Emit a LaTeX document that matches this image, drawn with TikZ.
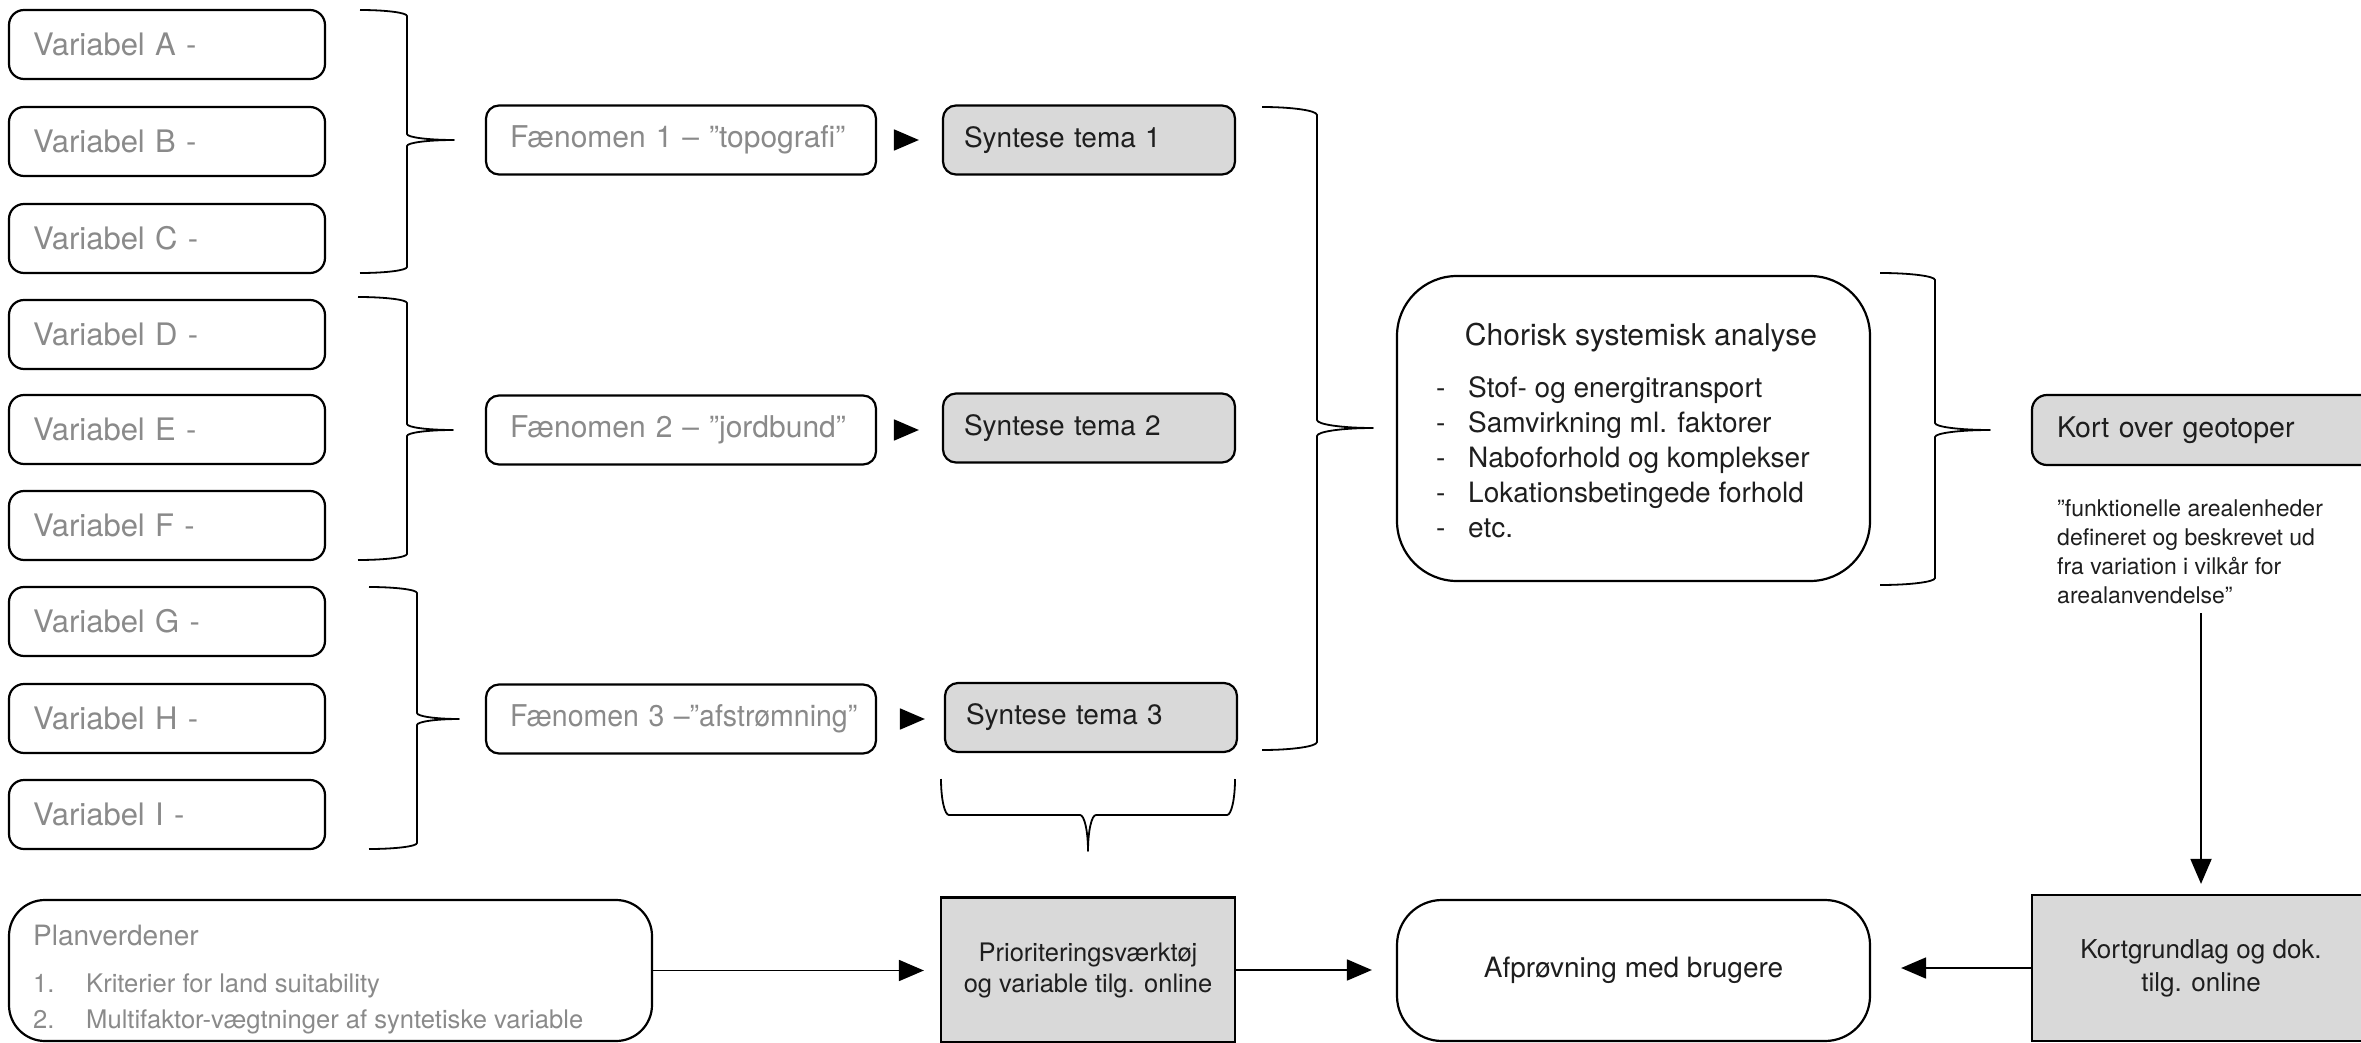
\documentclass[tikz,border=0pt]{standalone}
\usepackage{graphicx}
\usepackage{fontspec}
\setmainfont{TeX Gyre Heros}
\usetikzlibrary{arrows.meta}

\definecolor{txtgrey}{HTML}{8A8A8A}
\definecolor{txtdark}{HTML}{1E1E1E}
\definecolor{boxfill}{HTML}{D9D9D9}

% Curly brace in local coordinates: arms end at x=-#1, spine on x=0,
% tip at x=#2; it runs from y=0 to y=#3, tip at y=#4, corner size #5.
\newcommand{\bracepath}[5]{%
  (-#1,0) .. controls ({-0.4477*#1},0) and (0,{0.4477*#5}) .. (0,#5)
  -- (0,{#4-#5}) .. controls (0,{#4-0.4477*#5}) and ({0.4477*#2},#4) .. (#2,#4)
  .. controls ({0.4477*#2},#4) and (0,{#4+0.4477*#5}) .. (0,{#4+#5})
  -- (0,{#3-#5}) .. controls (0,{#3-0.4477*#5}) and ({-0.4477*#1},#3) .. (-#1,#3)}

\begin{document}
\begin{tikzpicture}[x=1pt, y=-1pt,
  every node/.style={inner sep=0pt},
  border/.style={draw=black, line width=2.2pt},
  varbox/.style={border, rounded corners=15pt, text=txtgrey,
    font=\fontsize{31}{37}\selectfont, minimum height=69pt,
    text width=268pt, inner xsep=24pt, align=left},
  fenbox/.style={border, rounded corners=13pt, text=txtgrey,
    font=\fontsize{30}{36}\selectfont, minimum height=69pt,
    text width=342pt, inner xsep=24pt, align=left},
  synbox/.style={border, rounded corners=13pt, fill=boxfill, text=txtdark,
    font=\fontsize{28}{34}\selectfont, minimum height=69pt,
    text width=250pt, inner xsep=21pt, align=left},
  sqbox/.style={border, fill=boxfill, text=txtdark, align=center},
  arr/.style={line width=1.8pt, -{Triangle[length=25pt,width=21pt]}},
  brc/.style={line width=1.8pt, line join=round},
]
\useasboundingbox (0,0) rectangle (2361,1043);
\clip (0,0) rectangle (2361,1043);

% ---- input variables ----
\node[varbox] (vA) at (167,44.5)  {Variabel A -};
\node[varbox] (vB) at (167,141.5) {Variabel B -};
\node[varbox] (vC) at (167,238.5) {Variabel C -};
\node[varbox] (vD) at (167,334.5) {Variabel D -};
\node[varbox] (vE) at (167,429.5) {Variabel E -};
\node[varbox] (vF) at (167,525.5) {Variabel F -};
\node[varbox] (vG) at (167,621.5) {Variabel G -};
\node[varbox] (vH) at (167,718.5) {Variabel H -};
\node[varbox] (vI) at (167,814.5) {Variabel I -};

% braces grouping the variables
\draw[brc, shift={(407,10)}]  \bracepath{47}{47}{263}{130}{6};
\draw[brc, shift={(407,297)}] \bracepath{49}{46}{263}{133}{6};
\draw[brc, shift={(417,587)}] \bracepath{48}{42}{262}{132}{6};

% ---- phenomena ----
\node[fenbox] (f1) at (681,140) {\mbox{Fænomen 1 – ”topografi”}};
\node[fenbox] (f2) at (681,430) {\mbox{Fænomen 2 – ”jordbund”}};
\node[fenbox] (f3) at (681,719) {\scalebox{0.95}[1]{Fænomen 3 –”afstrømning”}};

% ---- synthesis themes ----
\node[synbox] (s1) at (1089,140)   {Syntese tema 1};
\node[synbox] (s2) at (1089,428)   {Syntese tema 2};
\node[synbox] (s3) at (1091,717.5) {Syntese tema 3};

\draw[arr, shorten <=20pt, shorten >=23pt] (f1.east) -- (s1.west);
\draw[arr, shorten <=20pt, shorten >=23pt] (f2.east) -- (f2.east -| s2.west);
\draw[arr, shorten <=23pt, shorten >=19pt] (f3.east) -- (f3.east -| s3.west);

% brace gathering the three themes
\draw[brc, shift={(1317,107)}] \bracepath{55}{56}{643}{321}{8};

% brace below theme 3
\begin{scope}[shift={(941,815)}, x={(0pt,-1pt)}, y={(1pt,0pt)}]
  \draw[brc] \bracepath{36}{36}{294}{147}{8};
\end{scope}

% ---- chorological analysis ----
\node[border, rounded corners=60pt, minimum width=473pt, minimum height=305pt]
  (ch) at (1633.5,428.5) {};
\node[anchor=base, text=txtdark, font=\fontsize{30}{36}\selectfont]
  (chtitle) at (1641,345) {Chorisk systemisk analyse};
\node[anchor=north west, text=txtdark, align=left,
  font=\fontsize{28}{35}\selectfont] (chlist) at (1436,376)
  {\makebox[32pt][l]{-}Stof- og energitransport\\
   \makebox[32pt][l]{-}Samvirkning ml. faktorer\\
   \makebox[32pt][l]{-}Naboforhold og komplekser\\
   \makebox[32pt][l]{-}Lokationsbetingede forhold\\
   \makebox[32pt][l]{-}etc.};

\draw[brc, shift={(1935,273)}] \bracepath{55}{55}{312}{157}{7};

% ---- geotope map ----
\node[border, rounded corners=15pt, fill=boxfill, text=txtdark,
  font=\fontsize{28.5}{34}\selectfont, minimum height=70pt,
  text width=318pt, inner xsep=25pt, align=left]
  (kort) at (2216,430) {Kort over geotoper};
\node[anchor=north west, text=txtdark, align=left,
  font=\fontsize{23}{29}\selectfont] (quote) at (2057,499)
  {”funktionelle arealenheder\\
   defineret og beskrevet ud\\
   fra variation i vilkår for\\
   arealanvendelse”};

% ---- bottom row ----
\node[border, rounded corners=36pt, minimum width=643pt, minimum height=141pt]
  (pl) at (330.5,970.5) {};
\node[anchor=base west, text=txtgrey, font=\fontsize{28}{34}\selectfont]
  (pltitle) at (33,945) {Planverdener};
\node[anchor=north west, text=txtgrey, align=left,
  font=\fontsize{25.6}{36}\selectfont] (pllist) at (33,974)
  {\makebox[53pt][l]{1.}Kriterier for land suitability\\
   \makebox[53pt][l]{2.}Multifaktor-vægtninger af syntetiske variable};

\node[sqbox, minimum width=294pt, minimum height=145pt,
  font=\fontsize{25.5}{31}\selectfont]
  (pr) at (1088,970) {Prioriteringsværktøj\\og variable tilg. online};

\node[border, rounded corners=45pt, minimum width=473pt, minimum height=141pt,
  text=txtdark, font=\fontsize{28}{34}\selectfont]
  (af) at (1633.5,970.5) {Afprøvning med brugere};

\node[sqbox, minimum width=338pt, minimum height=146pt,
  font=\fontsize{26}{33}\selectfont]
  (kg) at (2201,968) {Kortgrundlag og dok.\\tilg. online};

% ---- connectors ----
\coordinate (qend) at (2201,613);
\draw[arr, shorten >=10pt] (qend) -- (kg.north);
\draw[arr, shorten >=16pt] (pl.east) -- (pl.east -| pr.west);
\draw[arr, shorten >=24pt] (pr.east) -- (pr.east -| af.west);
\draw[arr, shorten >=30pt] (kg.west) -- (kg.west -| af.east);
\end{tikzpicture}
\end{document}
